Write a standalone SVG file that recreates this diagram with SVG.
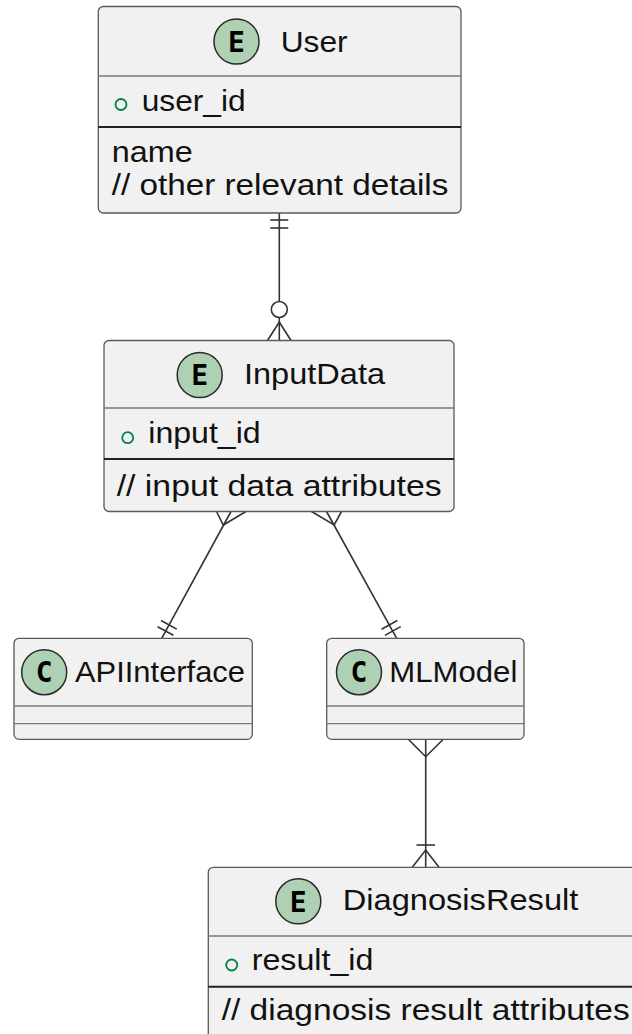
<svg xmlns="http://www.w3.org/2000/svg" width="632" height="1034" viewBox="0 0 632 1034">
  <style>
    .box { fill: #F1F1F1; stroke: #5a5a5a; stroke-width: 1.3; }
    .sep { stroke: #7a7a7a; stroke-width: 1.3; fill: none; }
    .keysep { stroke: #222; stroke-width: 2; fill: none; }
    .badge { fill: #ADD1B2; stroke: #2a2a2a; stroke-width: 1.5; }
    .badge-t { font-family: "DejaVu Sans Mono", "Liberation Mono", monospace; font-weight: bold; font-size: 28px; fill: #000; text-anchor: middle; }
    .t { font-family: "Liberation Sans", Arial, sans-serif; font-size: 30px; fill: #111; }
    .pk { fill: none; stroke: #038048; stroke-width: 1.8; }
    .edge { stroke: #333; stroke-width: 1.6; fill: none; }
  </style>

  <!-- connectors -->
  <g id="connectors">
    <!-- User: exactly one, InputData: zero or many -->
    <g id="edge-user-inputdata">
      <line class="edge" x1="279.3" y1="213" x2="279.3" y2="301.5"/>
      <line class="edge" x1="270.3" y1="220" x2="288.3" y2="220"/>
      <line class="edge" x1="270.3" y1="228" x2="288.3" y2="228"/>
      <circle class="edge" cx="279.3" cy="309.5" r="8"/>
      <line class="edge" x1="279.3" y1="317.5" x2="279.3" y2="340.5"/>
      <polyline class="edge" points="267.5,340.5 279.3,322 291,340.5"/>
    </g>
    <!-- InputData: many, APIInterface: exactly one -->
    <g id="edge-inputdata-api">
      <line class="edge" x1="231" y1="511.5" x2="161.7" y2="638.3"/>
      <polyline class="edge" points="216.5,511.5 223.3,525 246,511.5"/>
      <line class="edge" x1="157.6" y1="626.7" x2="173.4" y2="635.3"/>
      <line class="edge" x1="161" y1="620.5" x2="176.8" y2="629.1"/>
    </g>
    <!-- InputData: many, MLModel: exactly one -->
    <g id="edge-inputdata-ml">
      <line class="edge" x1="326.5" y1="511.5" x2="396.7" y2="638.3"/>
      <polyline class="edge" points="311.5,511.5 334.2,525 341.5,511.5"/>
      <line class="edge" x1="384.9" y1="635.4" x2="400.7" y2="626.6"/>
      <line class="edge" x1="381.5" y1="629.3" x2="397.3" y2="620.5"/>
    </g>
    <!-- MLModel: many, DiagnosisResult: one or many -->
    <g id="edge-ml-diagnosis">
      <line class="edge" x1="425.7" y1="739.3" x2="425.7" y2="867.3"/>
      <polyline class="edge" points="408.3,739.3 425.7,756.7 443.3,739.3"/>
      <line class="edge" x1="416.5" y1="845" x2="435" y2="845"/>
      <polyline class="edge" points="412.3,867.3 425.7,850 439,867.3"/>
    </g>
  </g>

  <!-- entity User -->
  <g id="node-user">
    <rect class="box" x="98.3" y="6.5" width="362.7" height="206.5" rx="5"/>
    <circle class="badge" cx="236.5" cy="41.5" r="22.5"/>
    <text class="badge-t" x="236.5" y="51.7">E</text>
    <text class="t" x="280.7" y="51.5" textLength="67" lengthAdjust="spacingAndGlyphs">User</text>
    <line class="sep" x1="98.3" y1="76" x2="461" y2="76"/>
    <circle class="pk" cx="121" cy="104.5" r="5.5"/>
    <text class="t" x="141.7" y="110.5" textLength="104" lengthAdjust="spacingAndGlyphs">user_id</text>
    <line class="keysep" x1="98.3" y1="127" x2="461" y2="127"/>
    <text class="t" x="111.7" y="162" textLength="81" lengthAdjust="spacingAndGlyphs">name</text>
    <text class="t" x="111.7" y="195" textLength="336.7" lengthAdjust="spacingAndGlyphs">// other relevant details</text>
  </g>

  <!-- entity InputData -->
  <g id="node-inputdata">
    <rect class="box" x="104" y="340.5" width="350" height="171" rx="5"/>
    <circle class="badge" cx="199.7" cy="375" r="22.5"/>
    <text class="badge-t" x="199.7" y="385.2">E</text>
    <text class="t" x="244" y="384" textLength="141" lengthAdjust="spacingAndGlyphs">InputData</text>
    <line class="sep" x1="104" y1="408" x2="454" y2="408"/>
    <circle class="pk" cx="127.7" cy="437.7" r="5.5"/>
    <text class="t" x="148.3" y="443" textLength="112.4" lengthAdjust="spacingAndGlyphs">input_id</text>
    <line class="keysep" x1="104" y1="459" x2="454" y2="459"/>
    <text class="t" x="116.7" y="496" textLength="325" lengthAdjust="spacingAndGlyphs">// input data attributes</text>
  </g>

  <!-- class APIInterface -->
  <g id="node-apiinterface">
    <rect class="box" x="14" y="638.3" width="238.3" height="101" rx="5"/>
    <circle class="badge" cx="44.2" cy="672.2" r="22.5"/>
    <text class="badge-t" x="44.2" y="682.4">C</text>
    <text class="t" x="75" y="681.7" textLength="170" lengthAdjust="spacingAndGlyphs">APIInterface</text>
    <line class="sep" x1="14" y1="706" x2="252.3" y2="706"/>
    <line class="sep" x1="14" y1="723.7" x2="252.3" y2="723.7"/>
  </g>

  <!-- class MLModel -->
  <g id="node-mlmodel">
    <rect class="box" x="326.7" y="638.3" width="197.3" height="101" rx="5"/>
    <circle class="badge" cx="359" cy="672.2" r="22.5"/>
    <text class="badge-t" x="359" y="682.4">C</text>
    <text class="t" x="389.3" y="681.7" textLength="128" lengthAdjust="spacingAndGlyphs">MLModel</text>
    <line class="sep" x1="326.7" y1="706" x2="524" y2="706"/>
    <line class="sep" x1="326.7" y1="723.7" x2="524" y2="723.7"/>
  </g>

  <!-- entity DiagnosisResult -->
  <g id="node-diagnosisresult">
    <rect class="box" x="208.3" y="867.3" width="440" height="200" rx="5"/>
    <circle class="badge" cx="298.3" cy="901.3" r="22.5"/>
    <text class="badge-t" x="298.3" y="911.5">E</text>
    <text class="t" x="342.7" y="910" textLength="235.7" lengthAdjust="spacingAndGlyphs">DiagnosisResult</text>
    <line class="sep" x1="208.3" y1="936" x2="640" y2="936"/>
    <circle class="pk" cx="231.7" cy="965" r="5.5"/>
    <text class="t" x="251.7" y="970" textLength="121.7" lengthAdjust="spacingAndGlyphs">result_id</text>
    <line class="keysep" x1="208.3" y1="986.7" x2="640" y2="986.7"/>
    <text class="t" x="221.7" y="1020" textLength="408" lengthAdjust="spacingAndGlyphs">// diagnosis result attributes</text>
  </g>
</svg>
